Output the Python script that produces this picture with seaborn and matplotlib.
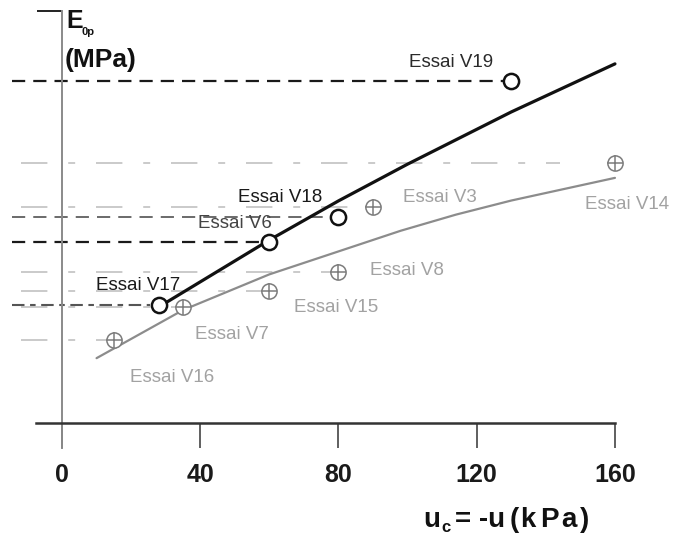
import matplotlib
matplotlib.use("Agg")
import matplotlib.pyplot as plt
import seaborn as sns
import pandas as pd

# Measured tests (u_c in kPa, E_0p on the chart's vertical scale)
names_black = ["Essai V17", "Essai V6", "Essai V18", "Essai V19"]
uc_black = [28, 60, 80, 130]
e_black = [34.5, 52.8, 60.0, 99.6]

names_gray = ["Essai V16", "Essai V7", "Essai V15", "Essai V8", "Essai V3", "Essai V14"]
uc_gray = [15, 35, 60, 80, 90, 160]
e_gray = [24.2, 33.8, 38.4, 44.0, 62.9, 75.7]

# Fitted trend curves
fit_uc_black = [28, 60, 80, 100, 130, 160]
fit_e_black = [33.8, 53.3, 64.7, 75.4, 90.6, 104.6]
fit_uc_gray = [10, 20, 35, 60, 98, 114, 130, 160]
fit_e_gray = [18.9, 24.5, 32.9, 43.3, 56.0, 60.7, 64.8, 71.4]

x_ticks = [0, 40, 80, 120, 160]

sns.set_theme(style="white")
plt.rcParams["font.family"] = ["Liberation Sans", "DejaVu Sans"]
plt.rcParams["lines.scale_dashes"] = False

df_black = pd.DataFrame({"uc": uc_black, "E": e_black, "name": names_black})
df_gray = pd.DataFrame({"uc": uc_gray, "E": e_gray, "name": names_gray})
fit_black = pd.DataFrame({"uc": fit_uc_black, "E": fit_e_black})
fit_gray = pd.DataFrame({"uc": fit_uc_gray, "E": fit_e_gray})

fig = plt.figure(figsize=(6.84, 5.35), dpi=100)
ax = fig.add_axes([0, 0, 1, 1])
ax.set_xlim(-17.94, 179.98)
ax.set_ylim(-32.6, 123.2)
ax.patch.set_alpha(0)

GRAY_PT = "#7c7c7c"
GRAY_TXT = "#a2a2a2"
GRAY_GUIDE = "#c6c6c6"
INK = "#111111"

# Horizontal reference lines from the vertical axis to each test
for _, r in df_gray.iterrows():
    xmax = min(r.uc - 2.4, 144)
    ax.hlines(r.E, -12, xmax, color=GRAY_GUIDE, lw=1.3,
              linestyle=(0, (19, 15, 5, 15)), zorder=1)

black_styles = {
    "Essai V17": ("#555555", 1.5, (0, (9, 4, 4, 4))),
    "Essai V6": ("#1a1a1a", 1.6, (0, (9.5, 5.8))),
    "Essai V18": ("#6a6a6a", 1.4, (0, (9.5, 5.8))),
    "Essai V19": ("#1a1a1a", 1.6, (0, (9.5, 5.8))),
}
for _, r in df_black.iterrows():
    c, lw, ls = black_styles[r["name"]]
    ax.hlines(r.E, -14.5, r.uc - 2.4, color=c, lw=lw, linestyle=ls, zorder=1)

# Trend curves
sns.lineplot(data=fit_gray, x="uc", y="E", color="#8c8c8c", lw=1.6,
             sort=False, estimator=None, ax=ax, zorder=2)
sns.lineplot(data=fit_black, x="uc", y="E", color=INK, lw=2.3,
             sort=False, estimator=None, ax=ax, zorder=3)

# Markers: open circles and circled crosses
sns.scatterplot(data=df_black, x="uc", y="E", marker="o", s=120,
                facecolor="white", edgecolor=INK, linewidth=1.8,
                ax=ax, zorder=5)
sns.scatterplot(data=df_gray, x="uc", y="E", marker="o", s=120,
                facecolor="white", edgecolor=GRAY_PT, linewidth=1.1,
                ax=ax, zorder=5)
sns.scatterplot(data=df_gray, x="uc", y="E", marker="+", s=120,
                color=GRAY_PT, linewidth=1.1, ax=ax, zorder=6)

# Test labels (offsets in points from each marker)
label_offsets = {
    "Essai V19": (-43, 13, "#2a2a2a"),
    "Essai V18": (-42, 14, "#1a1a1a"),
    "Essai V6": (-25, 13, "#444444"),
    "Essai V17": (-15, 14, "#1a1a1a"),
    "Essai V3": (48, 7, GRAY_TXT),
    "Essai V14": (9, -30, GRAY_TXT),
    "Essai V8": (49, 1, GRAY_TXT),
    "Essai V15": (48, -12, GRAY_TXT),
    "Essai V7": (35, -20, GRAY_TXT),
    "Essai V16": (42, -27, GRAY_TXT),
}
for df in (df_black, df_gray):
    for _, r in df.iterrows():
        dx, dy, c = label_offsets[r["name"]]
        ax.annotate(r["name"], (r.uc, r.E), xytext=(dx, dy),
                    textcoords="offset points", ha="center", va="center",
                    fontsize=13.5, color=c)

# Axes: cross-shaped frame through the origin
for s in ("top", "right"):
    ax.spines[s].set_visible(False)
ax.spines["bottom"].set_position(("data", 0))
ax.spines["bottom"].set_bounds(-7.5, 160)
ax.spines["bottom"].set_color("#333333")
ax.spines["bottom"].set_linewidth(1.8)
ax.spines["left"].set_position(("data", 0))
ax.spines["left"].set_bounds(-7.3, 120)
ax.spines["left"].set_color("#8a8a8a")
ax.spines["left"].set_linewidth(1.4)

ax.set_xticks(x_ticks)
ax.set_xticklabels([str(t) for t in x_ticks], fontsize=18, fontweight="bold",
                   color="#1a1a1a")
ax.tick_params(axis="x", direction="out", length=18, width=1.2,
               color="#444444", pad=11, bottom=True)
ax.set_yticks([120])
ax.set_yticklabels([""])
ax.tick_params(axis="y", direction="out", length=18, width=1.4,
               color="#222222", left=True)
ax.set_xlabel("")
ax.set_ylabel("")

# Vertical axis title: E with subscript 0p, unit below
title_kw = dict(xycoords="figure pixels", ha="left", va="baseline",
                fontweight="bold", color=INK)
ax.annotate("E", (66, 507), fontsize=18, **title_kw)
ax.annotate("0p", (81, 500), fontsize=8, **title_kw)
ax.annotate("(MPa)", (65, 468), fontsize=19, **title_kw)

# Horizontal axis title, set piece by piece with slightly open spacing
x_title = [("u", 423, 8, 20), ("c", 441, 3, 12), ("= -u", 455, 8, 20),
           ("(", 510, 8, 20), ("k", 520, 8, 20), ("P", 540, 8, 20),
           ("a", 561, 8, 20), (")", 580, 8, 20)]
for txt, px, py, fs in x_title:
    ax.annotate(txt, (px, py), fontsize=fs, **title_kw)

fig.savefig("out.png", dpi=100)
